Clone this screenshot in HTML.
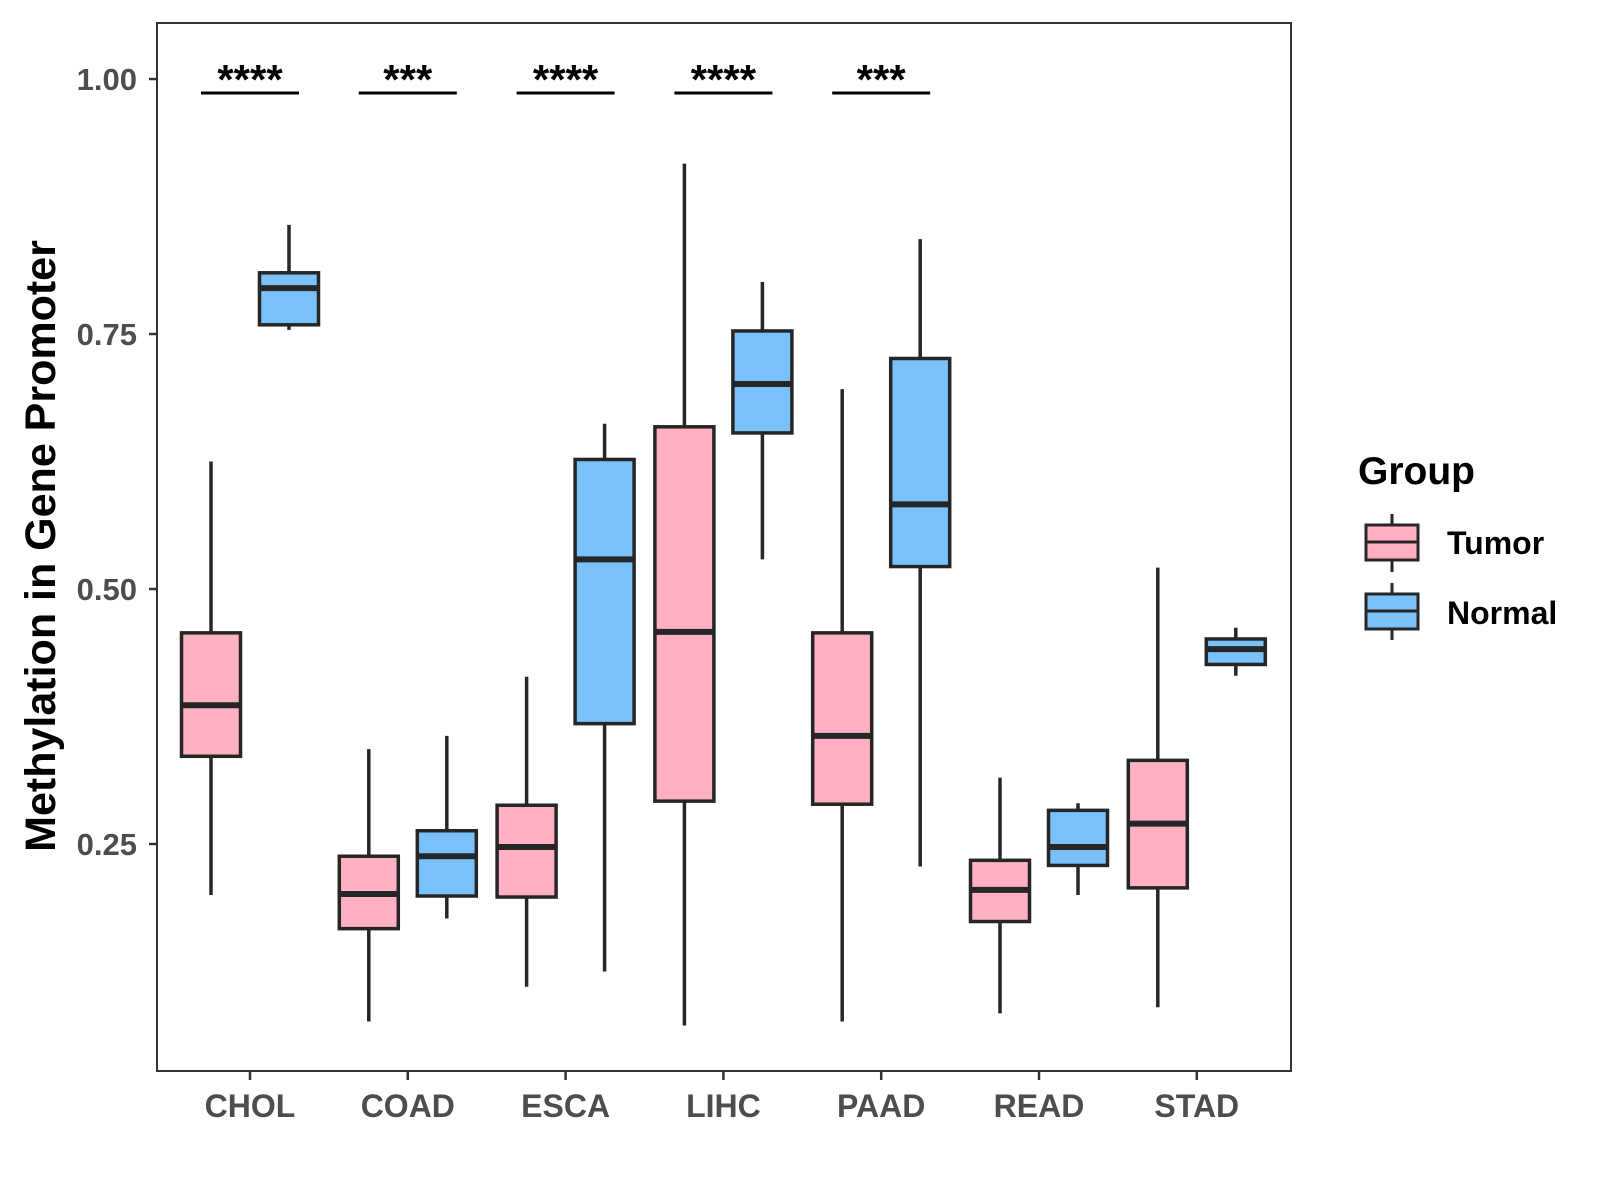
<!DOCTYPE html>
<html><head><meta charset="utf-8"><style>
html,body{margin:0;padding:0;background:#fff;}
svg{display:block;font-family:"Liberation Sans",Arial,sans-serif;}
</style></head><body>
<svg id="chart" width="1600" height="1200" viewBox="0 0 1600 1200">
<rect x="157" y="23" width="1134" height="1048" fill="#fff" stroke="#333" stroke-width="2"/>
<g id="marks"></g>
<text transform="translate(55,546) rotate(-90)" text-anchor="middle" font-size="43" font-weight="bold" fill="#000">Methylation in Gene Promoter</text>
<g>
<text x="1358" y="484" font-size="39" font-weight="bold" fill="#000">Group</text>
<g>
<line x1="1392" y1="514" x2="1392" y2="572" stroke="#262626" stroke-width="3"/>
<rect x="1366" y="525" width="52" height="35" fill="#FFB0C1" stroke="#262626" stroke-width="3"/>
<line x1="1366" y1="542" x2="1418" y2="542" stroke="#262626" stroke-width="3"/>
<text x="1447" y="554" font-size="32" font-weight="bold" fill="#000">Tumor</text>
</g>
<g>
<line x1="1392" y1="583" x2="1392" y2="640" stroke="#262626" stroke-width="3"/>
<rect x="1366" y="594" width="52" height="35" fill="#79C1F8" stroke="#262626" stroke-width="3"/>
<line x1="1366" y1="611" x2="1418" y2="611" stroke="#262626" stroke-width="3"/>
<text x="1447" y="624" font-size="32" font-weight="bold" fill="#000">Normal</text>
</g>
</g>
</svg>
<script>
const categories = ["CHOL","COAD","ESCA","LIHC","PAAD","READ","STAD"];
// [lower whisker, q1, median, q3, upper whisker]
const tumorStats = [
 [0.200,0.336,0.386,0.457,0.625],
 [0.076,0.167,0.201,0.238,0.343],
 [0.110,0.198,0.247,0.288,0.414],
 [0.072,0.292,0.458,0.659,0.917],
 [0.076,0.289,0.356,0.457,0.696],
 [0.084,0.174,0.205,0.234,0.315],
 [0.090,0.207,0.270,0.332,0.521]
];
const normalStats = [
 [0.754,0.759,0.795,0.810,0.857],
 [0.177,0.199,0.238,0.263,0.356],
 [0.125,0.368,0.529,0.627,0.662],
 [0.529,0.653,0.701,0.753,0.801],
 [0.228,0.522,0.583,0.726,0.843],
 [0.200,0.229,0.247,0.283,0.290],
 [0.415,0.426,0.441,0.451,0.462]
];
const significance = ["****","***","****","****","***",null,null];
const yTicks = [0.25,0.50,0.75,1.00];
const yTickLabels = ["0.25","0.50","0.75","1.00"];

const NS="http://www.w3.org/2000/svg";
const g=document.getElementById("marks");
function y(v){return 1099-1020*v;}
function x(i){return 250+157.8*i;}
function el(t,a,p){const e=document.createElementNS(NS,t);for(const k in a)e.setAttribute(k,a[k]);(p||g).appendChild(e);return e;}

yTicks.forEach((v,i)=>{
 const t=el("line",{x1:149,x2:157,y1:y(v),y2:y(v),stroke:"#333","stroke-width":2.5});
 
 
 const l=el("text",{x:137,y:y(v)+11,"text-anchor":"end","font-size":31,"font-weight":"bold",fill:"#4d4d4d"});
 l.textContent=yTickLabels[i];
 
 
});
categories.forEach((c,i)=>{
 const t=el("line",{x1:x(i),x2:x(i),y1:1071,y2:1080,stroke:"#333","stroke-width":2.5});
 
 
 const l=el("text",{x:x(i),y:1117,"text-anchor":"middle","font-size":32,"font-weight":"bold",fill:"#4d4d4d"});
 l.textContent=c;
 
 
});
function box(cx,s,fill,name){
 const grp=el("g",{});
 
 
 el("line",{x1:cx,x2:cx,y1:y(s[0]),y2:y(s[4]),stroke:"#262626","stroke-width":3.5},grp);
 el("rect",{x:cx-29.5,y:y(s[3]),width:59,height:y(s[1])-y(s[3]),fill:fill,stroke:"#262626","stroke-width":3.5},grp);
 el("line",{x1:cx-29.5,x2:cx+29.5,y1:y(s[2]),y2:y(s[2]),stroke:"#262626","stroke-width":6},grp);
}
categories.forEach((c,i)=>{
 box(x(i)-39,tumorStats[i],"#FFB0C1","box-tumor-"+c.toLowerCase());
 box(x(i)+39,normalStats[i],"#79C1F8","box-normal-"+c.toLowerCase());
 if(significance[i]){
  const ln=el("line",{x1:x(i)-49,x2:x(i)+49,y1:93,y2:93,stroke:"#000","stroke-width":3});
  
  
  const st=el("text",{x:x(i),y:94,"text-anchor":"middle","font-size":42,"font-weight":"bold",fill:"#000"});
  st.textContent=significance[i];
  
  
 }
});
</script>
</body></html>
